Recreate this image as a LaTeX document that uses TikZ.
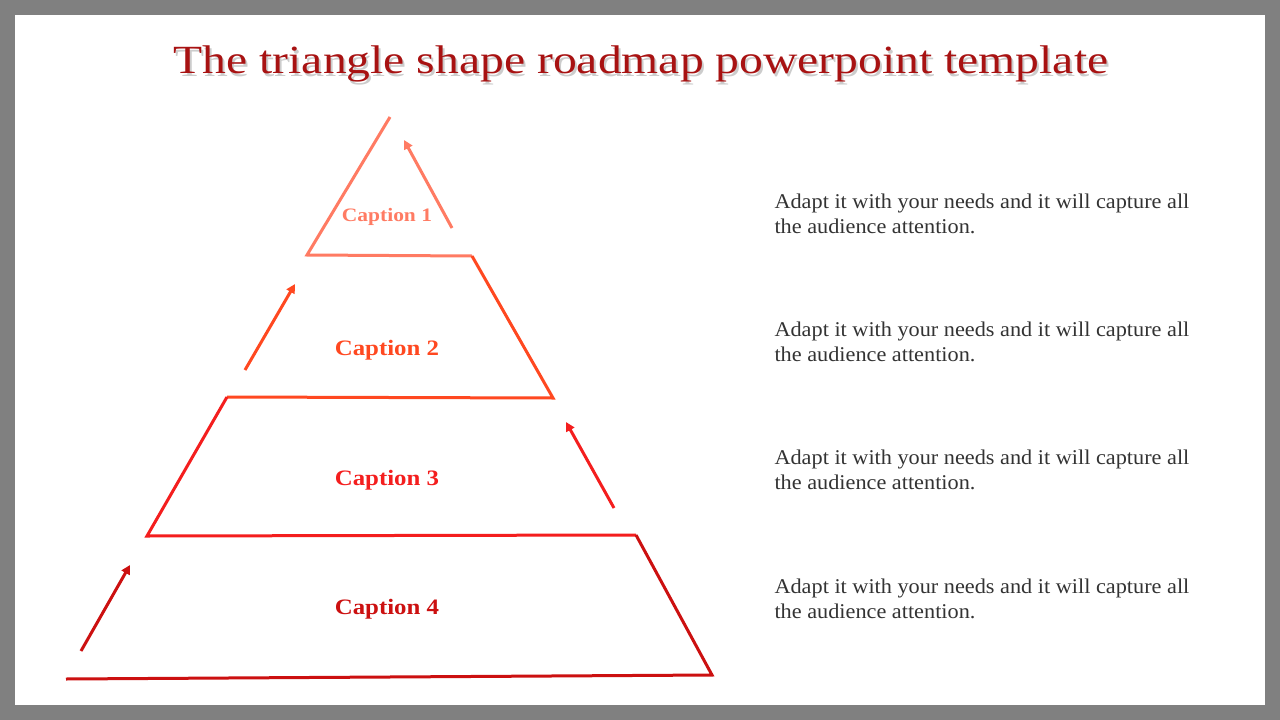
\documentclass[tikz,border=0pt]{standalone}
\usepackage{fontspec}
\setmainfont{Liberation Serif}
\usetikzlibrary{arrows.meta}
\definecolor{c1}{HTML}{FF7B63}
\definecolor{c2}{HTML}{FF4820}
\definecolor{c3}{HTML}{F41E1E}
\definecolor{c4}{HTML}{CC1010}
\definecolor{ttl}{HTML}{A81212}
\tikzset{seg/.style={line width=3pt,line join=miter},
 arr/.style={line width=3pt,-{Triangle[length=9pt,width=9pt]}},
 capt/.style={font=\bfseries\fontsize{22}{26}\selectfont},
 body/.style={anchor=north west,align=left,font=\fontsize{21}{25}\selectfont,text=black!80}}
\newcommand{\wide}[2]{\scalebox{#1}[1]{#2}}
\begin{document}
\begin{tikzpicture}[x=1pt,y=-1pt]
\fill[black!50] (0,0) rectangle (1280,720);
\fill[white] (15,15) rectangle (1265,705);
\useasboundingbox (0,0) rectangle (1280,720);
\node[font=\fontsize{40}{46}\selectfont,text=black!20] at (643,67) {\wide{1.19}{The triangle shape roadmap powerpoint template}};
\node[font=\fontsize{40}{46}\selectfont,text=ttl] (title) at (641,64) {\wide{1.19}{The triangle shape roadmap powerpoint template}};
\coordinate (p0) at (390,117); \coordinate (p1) at (307,255); \coordinate (p2) at (472,256);
\coordinate (p3) at (553,398); \coordinate (p4) at (227,397); \coordinate (p5) at (147,536);
\coordinate (p6) at (636,535); \coordinate (p7) at (712,675); \coordinate (p8) at (66,679);
\draw[seg,c1] (p0) -- (p1) -- (p2);
\draw[seg,c2] (p2) -- (p3) -- (p4);
\draw[seg,c3] (p4) -- (p5) -- (p6);
\draw[seg,c4] (p6) -- (p7) -- (p8);
\coordinate (a1) at (452,228); \coordinate (b1) at (404,140);
\coordinate (a2) at (245,370); \coordinate (b2) at (295,284);
\coordinate (a3) at (614,508); \coordinate (b3) at (566,422);
\coordinate (a4) at (81,651); \coordinate (b4) at (130,565);
\draw[arr,c1] (a1) -- (b1);
\draw[arr,c2] (a2) -- (b2);
\draw[arr,c3] (a3) -- (b3);
\draw[arr,c4] (a4) -- (b4);
\node[capt,text=c1,font=\bfseries\fontsize{19}{22}\selectfont] (k1) at (387,217) {\wide{1.13}{Caption 1}};
\node[capt,text=c2] (k2) at (387,350) {\wide{1.13}{Caption 2}};
\node[capt,text=c3] (k3) at (387,480) {\wide{1.13}{Caption 3}};
\node[capt,text=c4] (k4) at (387,609) {\wide{1.13}{Caption 4}};
\foreach \y/\n in {190/t1,318/t2,446/t3,575/t4}
 \node[body] (\n) at (771,\y) {\wide{1.06}{Adapt it with your needs and it will capture all}\\\wide{1.06}{the audience attention.}};
\end{tikzpicture}
\end{document}
